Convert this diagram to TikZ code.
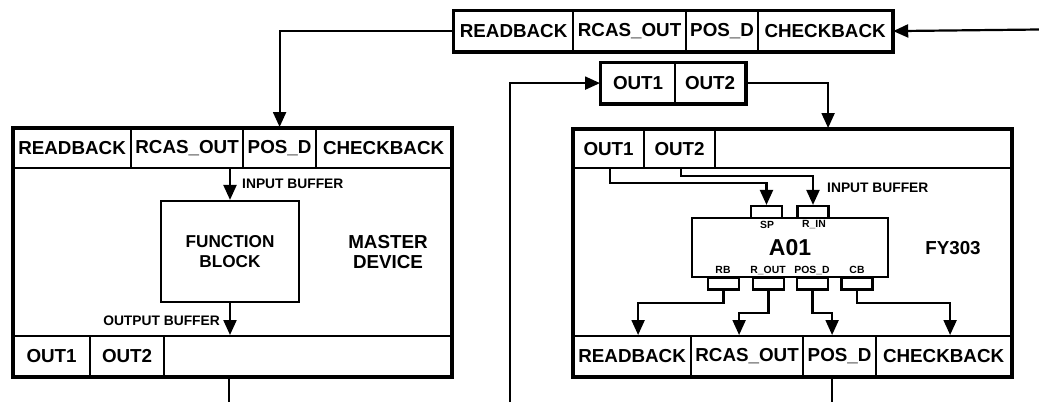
\documentclass[tikz,border=0pt]{standalone}
\usepackage{fontspec}
\setmainfont{Liberation Sans}
\usetikzlibrary{arrows.meta,calc}

\newcommand{\fsz}[1]{\fontsize{#1}{#1}\selectfont\bfseries}

\tikzset{
  cell/.style={draw, line width=2.2pt, inner sep=0pt, anchor=north west,
               minimum height=40pt, font=\fsz{18.8}},
  body/.style={draw, line width=2.8pt, inner sep=0pt, anchor=north west},
  fblock/.style={draw, line width=2.2pt, inner sep=0pt, align=center,
                 font={\fontsize{17.2}{19.5}\selectfont\bfseries}},
  port/.style={draw, line width=2.2pt, inner sep=0pt, minimum width=31pt,
               minimum height=12pt},
  portlbl/.style={inner sep=0pt, font=\fsz{10.4}},
  bufl/.style={inner sep=0pt, font=\fsz{13.8}},
  wire/.style={line width=2.2pt, -{Triangle[length=15pt,width=13pt]}},
  plain/.style={line width=2.2pt},
}

\begin{document}
\begin{tikzpicture}[x=1pt,y=-1pt]
\useasboundingbox (0,0) rectangle (1039,402);

% ---------- top bar ----------
\node[cell, minimum width=119pt] (tRB) at (453,10) {READBACK};
\node[cell, minimum width=113pt] (tRC) at (572,10) {RCAS\_OUT};
\node[cell, minimum width=72pt]  (tPD) at (685,10) {POS\_D};
\node[cell, minimum width=134pt] (tCB) at (757,10) {CHECKBACK};
\draw[line width=2.8pt] (tRB.north west) rectangle (tCB.south east);

% ---------- OUT1 / OUT2 bar ----------
\node[cell, minimum width=74pt] (mO1) at (600,62) {OUT1};
\node[cell, minimum width=70pt] (mO2) at (674,62) {OUT2};
\draw[line width=2.8pt] (mO1.north west) rectangle (mO2.south east);

% ---------- master device ----------
\node[body, minimum width=438pt, minimum height=248pt] (L) at (12,127) {};
\node[cell, minimum width=118pt] (lRB) at (12,127)  {READBACK};
\node[cell, minimum width=112pt] (lRC) at (130,127) {RCAS\_OUT};
\node[cell, minimum width=73pt]  (lPD) at (242,127) {POS\_D};
\node[cell, minimum width=135pt] (lCB) at (315,127) {CHECKBACK};
\node[cell, minimum width=77pt]  (lO1) at (12,335)  {OUT1};
\node[cell, minimum width=74pt]  (lO2) at (89,335)  {OUT2};
\node[cell, minimum width=287pt] (lE)  at (163,335) {};
\draw[line width=2.8pt] (L.north west) rectangle (L.south east);

\node[fblock, minimum width=138pt, minimum height=101pt] (F) at (230,251.5)
  {FUNCTION\\BLOCK};
\node[align=center, inner sep=0pt, font={\fontsize{18.8}{19.5}\selectfont\bfseries}]
  (mdev) at (388,252) {MASTER\\DEVICE};

\draw[wire] (F.north |- lRC.south) -- (F.north);
\node[bufl, anchor=west] (ib1) at (242,184) {INPUT BUFFER};
\draw[wire] (F.south) -- (F.south |- lE.north);
\node[bufl, anchor=east] (ob1) at (220,321) {OUTPUT BUFFER};

% ---------- FY303 ----------
\node[body, minimum width=438pt, minimum height=247pt] (R) at (572,128) {};
\node[cell, minimum width=71pt, minimum height=39pt]  (rO1) at (572,128) {OUT1};
\node[cell, minimum width=71pt, minimum height=39pt]  (rO2) at (643,128) {OUT2};
\node[cell, minimum width=296pt, minimum height=39pt] (rE)  at (714,128) {};
\node[cell, minimum width=118pt] (rRB) at (572,335) {READBACK};
\node[cell, minimum width=112pt] (rRC) at (690,335) {RCAS\_OUT};
\node[cell, minimum width=73pt]  (rPD) at (802,335) {POS\_D};
\node[cell, minimum width=135pt] (rCB) at (875,335) {CHECKBACK};
\draw[line width=2.8pt] (R.north west) rectangle (R.south east);

\node[draw, line width=2.2pt, inner sep=0pt, minimum width=196pt,
      minimum height=59pt, font=\fsz{23}] (A) at (790,247.5) {A01};
\node[port] (pSP) at (766.5,212) {};
\node[port] (pRI) at (813,212)   {};
\node[port] (pRB) at (723.5,283.5) {};
\node[port] (pRO) at (768.5,283.5) {};
\node[port] (pPD) at (812.5,283.5) {};
\node[port] (pCB) at (857,283.5)   {};
\node[portlbl] (lSP) at (767,225) {SP};
\node[portlbl] (lRI) at (814,225) {R\_IN};
\node[portlbl] (lRBp) at (723,270) {RB};
\node[portlbl] (lROp) at (768,270) {R\_OUT};
\node[portlbl] (lPDp) at (812,270) {POS\_D};
\node[portlbl] (lCBp) at (857,270) {CB};
\node[font=\fsz{18.8}, inner sep=0pt] (fy) at (953,248) {FY303};
\node[bufl, anchor=west] (ib2) at (827,188) {INPUT BUFFER};

\draw[wire] ([xshift=1.5pt]rO1.south) -- ++(0,14) -| (pSP.north);
\draw[wire] ([xshift=1.5pt]rO2.south) -- ++(0,7) -| (pRI.north);
\draw[wire] (pRB.south) -- ++(0,12) -| ([xshift=6pt]rRB.north);
\draw[wire] (pRO.south) -- ++(0,22) -| ([xshift=-8pt]rRC.north);
\draw[wire] (pPD.south) -- ++(0,22) -| ([xshift=-7.5pt]rPD.north);
\draw[wire] (pCB.south) -- ++(0,12) -| ([xshift=6.5pt]rCB.north);

% ---------- links between devices ----------
\coordinate (fromright) at (1039,29.5);
\coordinate (upleft) at (510,402);
\coordinate (downL) at (229,402);
\coordinate (downR) at (832,402);

\draw[wire] (fromright) -- (tCB.east);
\draw[wire] (tRB.west) -| (lPD.north);
\draw[wire] (upleft) |- (mO1.west);
\draw[wire] (mO2.east) -| ([xshift=-35pt]rE.north);
\draw[plain] (downL |- lE.south) -- (downL);
\draw[plain] (downR |- rPD.south) -- (downR);
\end{tikzpicture}
\end{document}
